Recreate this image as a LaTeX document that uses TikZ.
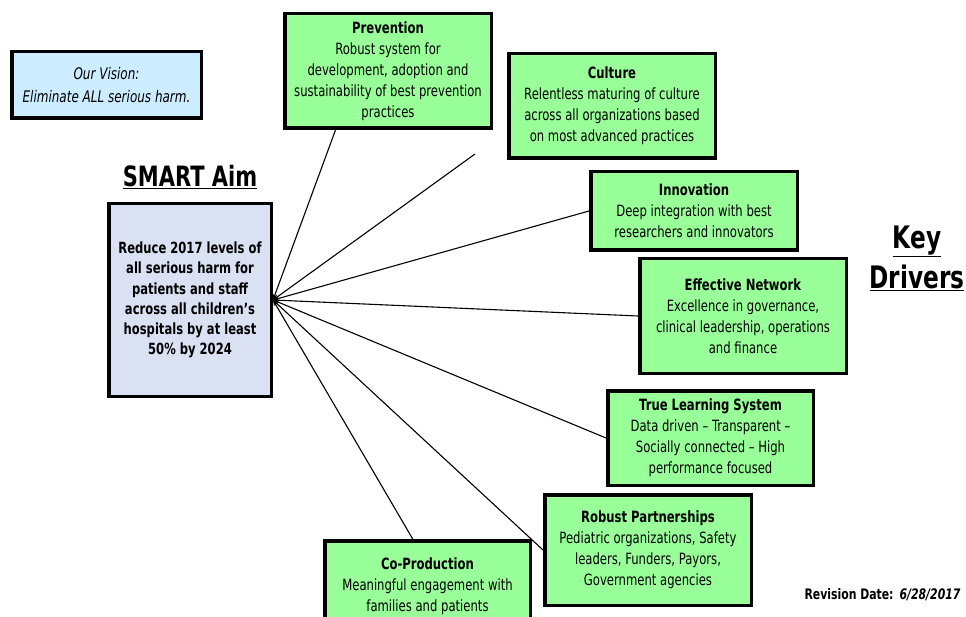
\documentclass[tikz,border=0pt]{standalone}
\usepackage{fontspec}
\setmainfont{DejaVu Sans}[FakeStretch=0.75]
\usepackage{tikz}
\usetikzlibrary{
  calc
  , arrows.meta
}
\definecolor{driverGreen}{HTML}{99FF99}
\definecolor{visionBlue}{HTML}{CCECFF}
\definecolor{aimBlue}{HTML}{DAE1F2}

\begin{document}
\begin{tikzpicture}[
        x=1pt, y=-1pt
      ]
      \def \W {206.5};
      \tikzstyle{box template}=[draw=black,line width=3.5pt,align=center,inner sep=0pt,font=\fontsize{15.5}{21}\selectfont];
      \tikzstyle{driver template}=[box template,fill=driverGreen,minimum width=\W];
      \tikzstyle{link}=[line width=1.1pt,{Stealth[length=6pt,width=4.5pt]}-];

      \clip (0,0) rectangle (966,617);

      \node [box template
          , fill=visionBlue
          , minimum width=189.5
          , minimum height=66.5
          , font=\fontsize{16}{23}\selectfont\itshape
        ] (vision) at (106.5,85) {Our Vision:\\Eliminate ALL serious harm.};

      \node [font=\fontsize{28}{30}\selectfont\bfseries] (aim_title) at (190,177) {\underline{SMART Aim}};

      \node [box template
          , fill=aimBlue
          , minimum width=162.5
          , minimum height=192.5
          , font=\fontsize{15.4}{20.2}\selectfont\bfseries
        ] (smart) at (190,300) {Reduce 2017 levels of\\all serious harm for\\patients and staff\\across all children's\\hospitals by  at least\\50\% by 2024};

      \node [driver template, minimum height=114.5] (prev) at (388,71)
        {\textbf{Prevention}\\Robust system for\\development, adoption and\\sustainability of best prevention\\practices};

      \node [driver template, minimum height=104.5] (culture) at (612,106)
        {\textbf{Culture}\\Relentless maturing of culture\\across all organizations based\\on most advanced practices};

      \node [driver template, minimum height=78.5] (innov) at (694,211)
        {\textbf{Innovation}\\Deep integration with best\\researchers and innovators};

      \node [driver template, minimum height=114.5] (network) at (743,316)
        {\textbf{Effective Network}\\Excellence in governance,\\clinical leadership, operations\\and finance};

      \node [driver template, minimum width=205.5, minimum height=94.5] (learning) at (710.5,438)
        {\textbf{True Learning System}\\Data driven -- Transparent --\\Socially connected -- High\\performance focused};

      \node [driver template, minimum height=110.5] (partners) at (648,550)
        {\textbf{Robust Partnerships}\\Pediatric organizations, Safety\\leaders, Funders, Payors,\\Government agencies};

      \node [driver template, minimum width=205.5, minimum height=90] (coprod) at (427.5,586)
        {\textbf{Co-Production}\\Meaningful engagement with\\families and patients};

      \node [font=\fontsize{31}{40}\selectfont\bfseries, align=center] (key_title) at (917,258)
        {\underline{Key}\\\underline{Drivers}};

      \node [anchor=east, font=\fontsize{14.5}{16}\selectfont\bfseries] (revision) at (964,595)
        {Revision Date:\hspace{6pt}\textit{6/28/2017}};

      \coordinate (culture_end) at (475,154);

      \draw [link] (smart.east) -- ($ (prev.south west)!0.25!(prev.south east) $);
      \draw [link] (smart.east) -- (culture_end);
      \draw [link] (smart.east) -- (innov.west);
      \draw [link] (smart.east) -- (network.west);
      \draw [link] (smart.east) -- (learning.west);
      \draw [link] (smart.east) -- (partners.west);
      \draw [link] (smart.east) -- ($ (coprod.north west)!0.43!(coprod.north east) $);

    \end{tikzpicture}
\end{document}
